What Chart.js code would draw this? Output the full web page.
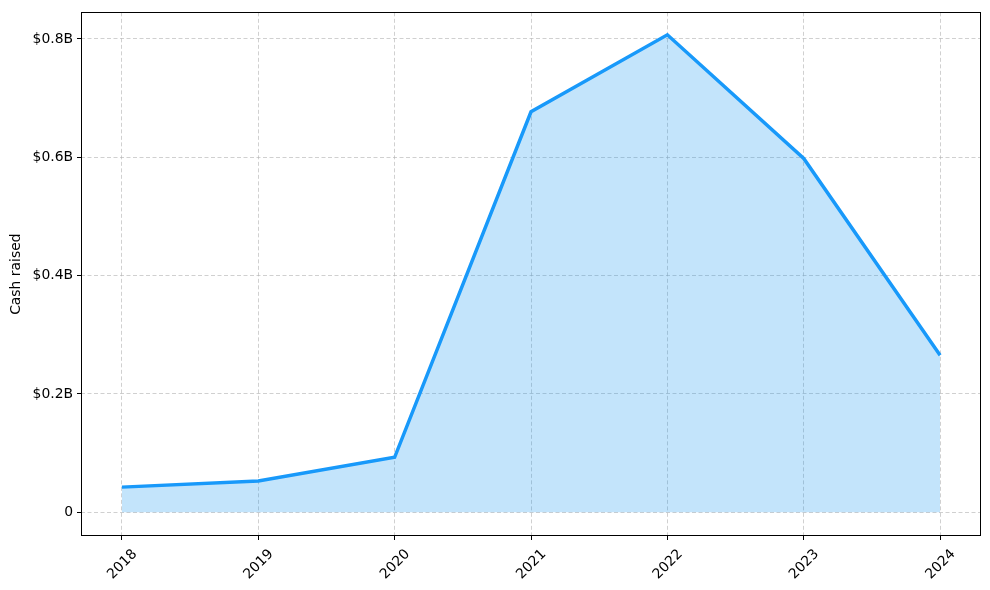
<!DOCTYPE html>
<html>
<head>
<meta charset="utf-8">
<script src="https://cdn.jsdelivr.net/npm/chart.js@4"></script>
<style>
html,body{margin:0;padding:0;background:#fff;}
#wrap{width:990px;height:590px;}
</style>
</head>
<body>
<div id="wrap"><canvas id="c" width="990" height="590"></canvas></div>
<script>
const years = ['2018','2019','2020','2021','2022','2023','2024'];
const cashRaised = [0.0426, 0.053, 0.093, 0.677, 0.807, 0.598, 0.2656];
const yTickValues = [0, 0.2, 0.4, 0.6, 0.8];
const yTickLabels = ['0', '$0.2B', '$0.4B', '$0.6B', '$0.8B'];
const yAxisTitle = 'Cash raised';

const FONT = {family: 'DejaVu Sans', size: 13.9};

const frame = {
  id: 'frame',
  afterDraw(chart) {
    const a = chart.chartArea, ctx = chart.ctx;
    ctx.save();
    ctx.strokeStyle = '#000';
    ctx.lineWidth = 1;
    ctx.strokeRect(Math.round(a.left) + 0.5, Math.round(a.top) + 0.5,
                   Math.round(a.right - a.left) - 1, Math.round(a.bottom - a.top) - 1);
    ctx.restore();
  }
};

new Chart(document.getElementById('c'), {
  type: 'line',
  data: {
    datasets: [{
      data: years.map((y, i) => ({x: i, y: cashRaised[i]})),
      borderColor: '#1899fa',
      backgroundColor: 'rgba(24,150,240,0.26)',
      borderWidth: 3.5,
      fill: 'origin',
      pointRadius: 0,
      tension: 0
    }]
  },
  options: {
    responsive: false,
    animation: false,
    layout: {padding: {left: 0, right: 9, top: 9, bottom: 0}},
    plugins: {legend: {display: false}, tooltip: {enabled: false}},
    scales: {
      x: {
        type: 'linear',
        min: -0.3, max: 6.3,
        afterBuildTicks: s => { s.ticks = years.map((y, i) => ({value: i})); },
        afterFit: s => { s.height = 54; },
        ticks: {
          callback: (v) => years[v],
          minRotation: 45, maxRotation: 45,
          color: '#000', font: FONT, padding: 6, labelOffset: 13
        },
        grid: {color: 'rgba(176,176,176,0.6)', lineWidth: 1, tickLength: 4, tickColor: '#000', tickBorderDash: [], tickWidth: 1},
        border: {display: false, dash: [4, 2.5]}
      },
      y: {
        min: -0.04, max: 0.845,
        afterBuildTicks: s => { s.ticks = yTickValues.map(v => ({value: v})); },
        afterFit: s => { s.width = 81; },
        ticks: {
          callback: (v) => yTickLabels[yTickValues.indexOf(v)],
          color: '#000', font: FONT, padding: 4
        },
        title: {display: true, text: yAxisTitle, color: '#000', font: FONT, padding: {top: 8, bottom: 0}},
        grid: {color: 'rgba(176,176,176,0.6)', lineWidth: 1, tickLength: 4, tickColor: '#000', tickBorderDash: [], tickWidth: 1},
        border: {display: false, dash: [4, 2.5]}
      }
    }
  },
  plugins: [frame]
});
</script>
</body>
</html>
